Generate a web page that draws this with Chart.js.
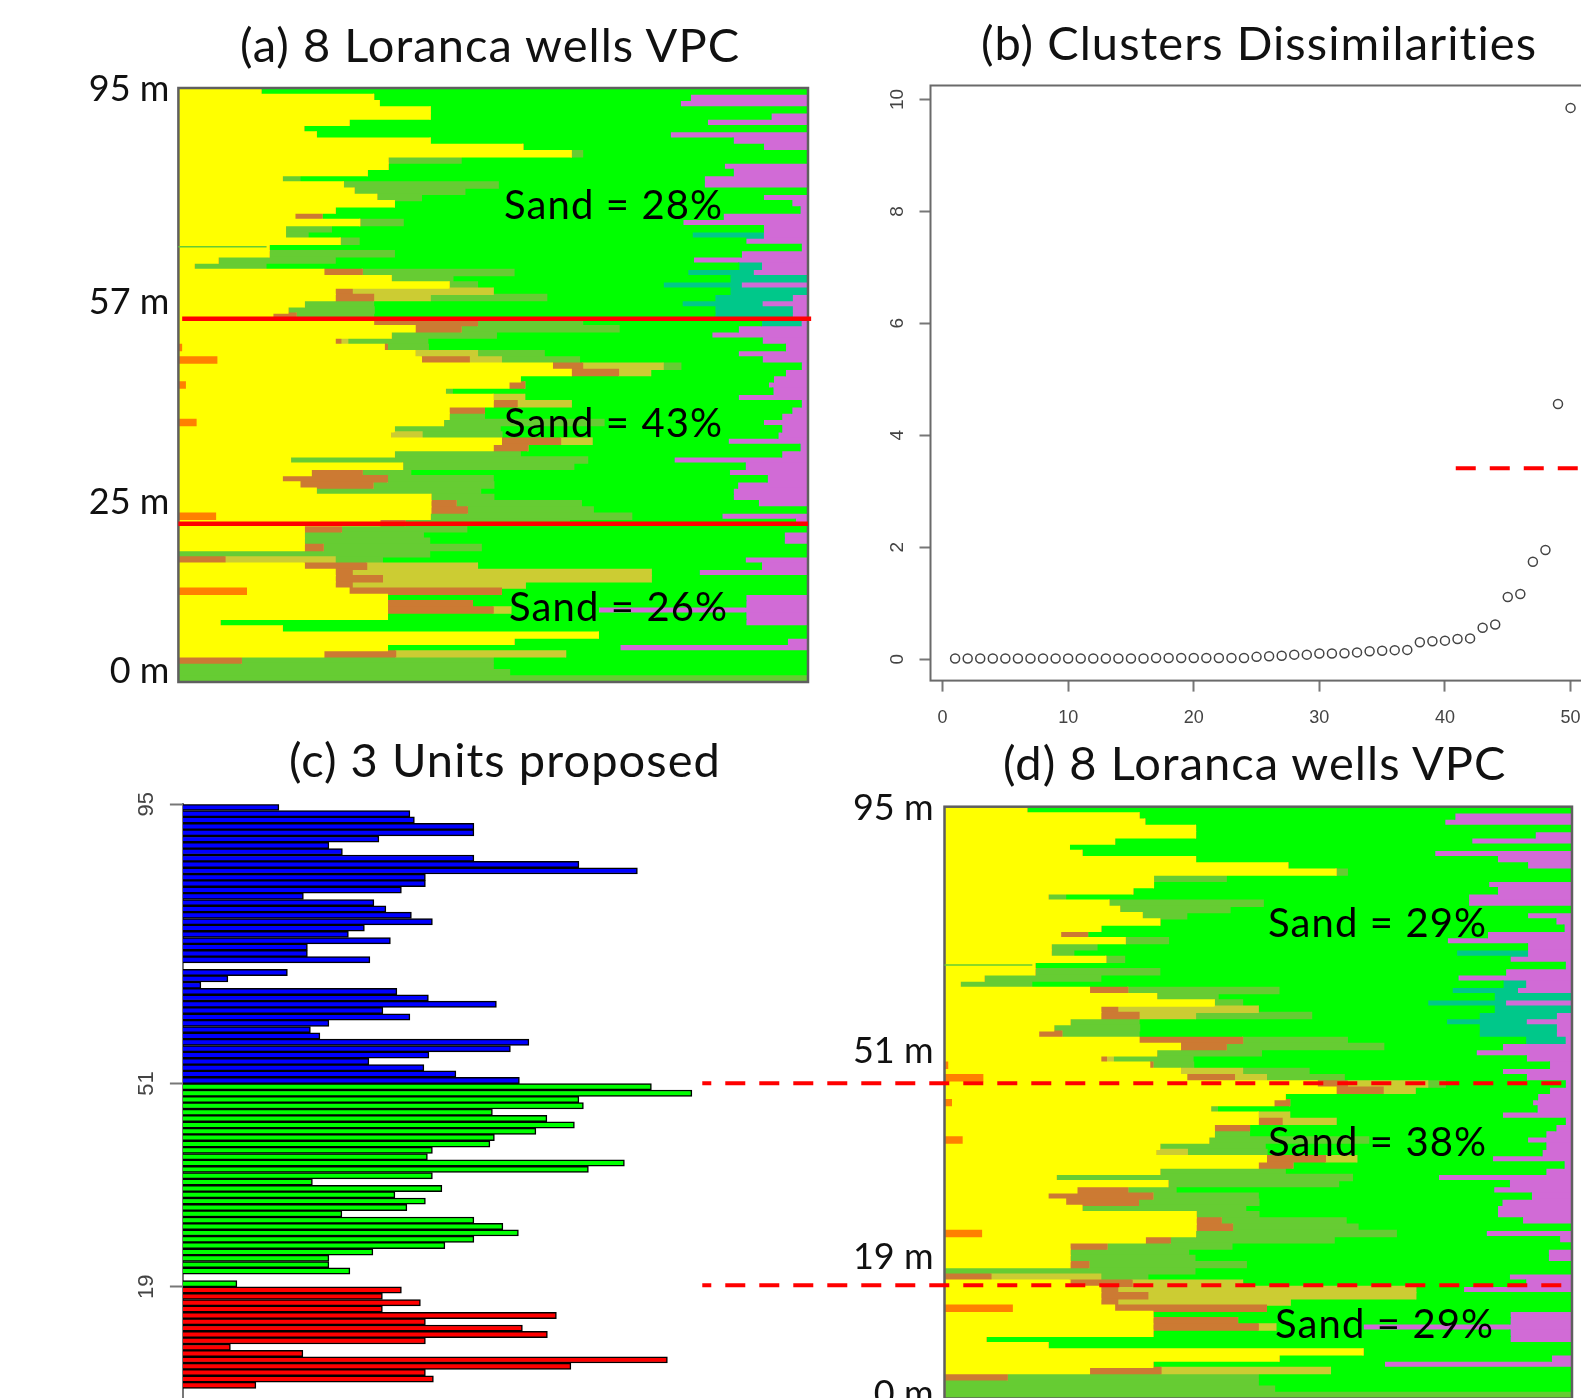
<!DOCTYPE html>
<html><head><meta charset="utf-8">
<style>
html,body{margin:0;padding:0;background:#fff;width:1581px;height:1398px;overflow:hidden}
#page{position:relative;width:1581px;height:1398px;overflow:hidden}
canvas{position:absolute;filter:blur(0.5px)}
.t{position:absolute;white-space:nowrap;font-family:Lato,sans-serif;color:#111;transform:translateY(-50%);line-height:1;z-index:10}
.title{font-size:47px;letter-spacing:1.05px}
.sand{font-size:40px;letter-spacing:1.1px;color:#000}
</style>
<script src="https://cdn.jsdelivr.net/npm/chart.js@4/dist/chart.umd.js"></script>
</head><body><div id="page">
<canvas id="ca" width="800" height="680" style="left:60px;top:40px;z-index:2"></canvas>
<canvas id="cb" width="800" height="710" style="left:860px;top:40px;z-index:2"></canvas>
<canvas id="cc" width="700" height="700" style="left:100px;top:780px;z-index:1"></canvas>
<canvas id="cd" width="881" height="700" style="left:700px;top:760px;z-index:3"></canvas>
<div class="t title" style="left:240px;top:44px">(a) 8 Loranca wells VPC</div>
<div class="t title" style="left:981px;top:42px">(b) Clusters Dissimilarities</div>
<div class="t title" style="left:289px;top:759px">(c) 3 Units proposed</div>
<div class="t title" style="left:1003px;top:762px">(d) 8 Loranca wells VPC</div>
<div class="t sand" style="left:504px;top:204px">Sand = 28%</div>
<div class="t sand" style="left:504px;top:422px">Sand = 43%</div>
<div class="t sand" style="left:509px;top:606px">Sand = 26%</div>
<div class="t sand" style="left:1268px;top:922px">Sand = 29%</div>
<div class="t sand" style="left:1268px;top:1141px">Sand = 38%</div>
<div class="t sand" style="left:1275px;top:1323px">Sand = 29%</div>
</div>
<script>
// ---- categories: one row per metre of the VPC, top to bottom
const rowDepths=[95,94,93,92,91,90,89,88,87,86,85,84,83,82,81,80,79,78,77,76,75,74,73,72,71,70,69,68,67,66,65,64,63,62,61,60,59,58,57,56,55,54,53,52,51,50,49,48,47,46,45,44,43,42,41,40,39,38,37,36,35,34,33,32,31,30,29,28,27,26,25,24,23,22,21,20,19,18,17,16,15,14,13,12,11,10,9,8,7,6,5,4,3,2,1];

// ---- VPC facies proportions (percent of wells per row)
const orange=[0,0,0,0,0,0,0,0,0,0, 0,0,0,0,0,0,0,0,0,0, 0,0,0,0,0,0,0,0,0,0, 0,0,0,0,0,0,0,0,0,0,
 0,0.5,0,6.1,0,0,0,1.1,0,0, 0,0,0,2.8,0,0,0,0,0,0, 0,0,0,0,0,0,0,0,5.9,0, 0,0,0,0,0,0,0,0,0,0,
 10.8,0,0,0,0,0,0,0,0,0, 0,0,0,0,0];
const yellow=[13.1,31.0,31.9,40.0,40.0,27.1,19.9,21.9,40.0,54.7,
 62.4,33.3,33.3,30.0,16.5,26.2,27.9,31.5,34.3,24.9,
 18.5,28.8,17.0,17.0,25.7,14.4,14.4,6.3,2.5,23.1,
 33.8,43.0,24.9,24.9,20.0,17.4,15.0,31.0,37.6,33.8,
 24.9,32.2,37.6,32.5,59.4,62.4,54.3,51.4,42.4,50.0,
 50.0,43.0,43.0,39.3,34.3,33.7,51.3,50.0,34.3,17.8,
 35.6,21.1,16.5,19.3,21.9,40.1,40.1,40.1,34.1,32.0,
 20.0,20.0,20.0,20.0,0,0,20.0,24.9,24.9,24.9,
 16.3,33.2,33.2,33.2,33.2,6.6,16.5,66.7,53.3,33.2,
 23.1,0,0,0,0];
const brown=[0,0,0,0,0,0,0,0,0,0, 0,0,0,0,0,0,0,0,0,0,
 4.3,0,0,0,0,0,0,0,0,6.1,
 0,0,2.7,6.1,0,0,3.7,16.5,7.3,0,
 0.9,0.5,0,7.6,4.8,7.5,0,2.5,0,0,
 3.8,5.6,0,0,0,0,9.4,5.5,0,0,
 0,8.1,16.7,11.6,0,0,4.0,5.8,0,4.0,
 5.9,0,0,3.0,0,7.4,9.9,2.7,7.5,2.7,
 24.2,0,13.5,16.8,0,0,0,0,0,0,
 11.4,10.0,0,0,0];
const khaki=[0,0,0,0,0,0,0,0,0,0, 0,0,0,0,0,0,0,0,0,0, 0,0,0,0,0,0,0,0,0,0,
 0,0,22.4,9.0,0,0,0,0,0,0,
 1.1,0,9.9,5.1,12.8,5.1,0,0,0,5.0,
 8.6,0,0,0,0,5.0,5.0,0,0,0,
 0,0,0,0,0,0,0,0,0,0,
 0,0,0,0,0,17.5,17.6,47.5,42.7,27.5,
 0,0,0,2.8,0,0,0,0,0,0,
 27.0,0,0,0,0];
const olive=[0,0,0,0,0,0,0,0,0,0,
 1.8,11.6,0,0,2.8,24.6,17.6,7.1,0,0,
 0,6.9,7.3,3.6,3.0,0,19.9,18.6,11.4,24.1,
 9.8,4.5,0,18.5,11.0,13.7,12.3,16.7,25.1,16.7,
 12.7,6.5,10.6,12.4,2.8,0,0,0,1.1,0,
 0,0,5.6,25.5,16.8,12.7,0,0,20.0,47.2,
 27.2,7.7,16.8,19.2,26.1,10.0,19.9,20.0,32.0,26.1,
 19.9,18.9,19.9,25.1,39.9,7.5,0,0,0,0,
 0,0,0,0,0,0,0,0,0,0,
 0,40.0,50.0,52.6,100];
const teal=[0,0,0,0,0,0,0,0,0,0, 0,0,0,0,0,0,0,0,0,0,
 0,0,0,11.3,0,0,0,0,3.6,10.4,
 12.4,12.4,12.4,12.3,12.7,12.3,12.3,6.3,0,0,
 0,0,0,0,0,0,0,0,0,0, 0,0,0,0,0,0,0,0,0,0, 0,0,0,0,0,0,0,0,0,0,
 0,0,0,0,0,0,0,0,0,0, 0,0,0,0,0,0,0,0,0,0, 0,0,0,0,0];
const purple=[0,18.7,20.3,0,5.9,16.0,0,21.9,11.9,7.1,
 0,0,13.3,11.9,16.5,16.5,0,7.1,2.6,1.3,
 13.5,19.9,7.1,7.1,9.9,1.1,10.6,18.2,7.4,8.7,
 0,10.6,0,2.5,7.3,2.5,2.5,1.1,11.1,15.3,
 7.3,3.6,11.1,7.3,1.1,3.6,5.5,6.3,5.6,11.1,
 1.1,2.6,4.2,7.1,4.2,4.8,12.7,1.3,4.2,21.3,
 10.0,12.5,6.5,11.2,11.9,11.9,7.9,0,13.7,2.0,
 0,3.8,3.8,0,0,10.0,7.4,17.3,0,0,
 0,9.9,9.9,33.3,9.9,9.9,0,0,3.3,29.9,
 0,0,0,0,0];

// ---- (b) dissimilarities
const clusterIndex=[1,2,3,4,5,6,7,8,9,10,11,12,13,14,15,16,17,18,19,20,21,22,23,24,25,26,27,28,29,30,31,32,33,34,35,36,37,38,39,40,41,42,43,44,45,46,47,48,49,50];
const dissimilarity=[0.01,0.01,0.01,0.01,0.01,0.01,0.01,0.01,0.01,0.01,0.01,0.01,0.01,0.01,0.01,0.01,0.02,0.02,0.02,0.02,0.02,0.02,0.02,0.02,0.04,0.05,0.06,0.08,0.08,0.1,0.1,0.105,0.12,0.14,0.15,0.16,0.165,0.3,0.32,0.33,0.36,0.37,0.56,0.62,1.11,1.165,1.74,1.95,4.56,9.85];
const cutX=[40.86,55];
const cutY=[3.41,3.41];

// ---- (c) sand proportion per row, three units
const unit1=[19.2,45.4,46.3,58.2,58.2,39.2,29.2,31.9,58.2,79.2,90.9,48.5,48.5,43.7,24.1,38.2,40.6,45.7,49.9,36.3,33.1,41.5,24.9,24.9,37.4,0,20.9,9.0,3.6,42.8,49.1,62.7,40.0,45.4,29.2,25.5,27.4,69.2,65.5,49.2,37.2,48.2,54.6,67.3];
const unit2=[93.7,101.8,79.2,80.1,61.9,72.8,78.3,70.6,62.3,61.4,49.9,48.9,88.3,81.1,49.9,25.9,51.8,42.4,48.5,44.8,31.8,58.2,64.0,67.1,58.2,52.4,38.0,29.2,29.2,33.4,0,10.8];
const unit3=[43.7,39.9,47.5,39.9,74.7,48.5,67.9,72.9,48.5,9.5,24.0,96.9,77.6,48.5,50.1,14.6];

// ---- tick labels (row index -> text)
const ticksA={0:'95 m',34:'57 m',66:'25 m',93:'0 m'};
const ticksD={0:'95 m',39:'51 m',72:'19 m',94:'0 m'};
const ticksC={0:'95',44:'51',76:'19'};

const facies=[
 ['Orange',orange,'#FF8000'],['Yellow',yellow,'#FFFF00'],['Brown',brown,'#CC7A33'],['Khaki',khaki,'#CCCC33'],
 ['Olive',olive,'#66CC33'],['Green',null,'#00FF00'],['Teal',teal,'#00C88A'],['Purple',purple,'#D16BD6']];
const green=rowDepths.map((_,i)=>Math.max(0,100-[orange,yellow,brown,khaki,olive,teal,purple].reduce((s,a)=>s+a[i],0)));

const decor={id:'decor',
 beforeDatasetsDraw(c,a,o){ if(o.bg){const r=c.chartArea;c.ctx.save();c.ctx.fillStyle=o.bg;c.ctx.fillRect(r.left,r.top,r.width,r.height);c.ctx.restore();}},
 afterDraw(c,a,o){const g=c.ctx,r=c.chartArea;g.save();
  if(o.frame){g.strokeStyle=o.frame;g.lineWidth=o.frameWidth||2;g.strokeRect(r.left,r.top,r.width,r.height);}
  (o.lines||[]).forEach(l=>{const y=c.scales.y.getPixelForValue(l.row);g.strokeStyle=l.color||'#FF0000';g.lineWidth=l.width;g.setLineDash(l.dash||[]);g.lineDashOffset=l.phase||0;
   g.beginPath();g.moveTo(c.scales.x.getPixelForValue(l.from),y);g.lineTo(c.scales.x.getPixelForValue(l.to),y);g.stroke();});
  g.restore();}};

function vpc(id,tickMap,pad,axisW,tickPad,lines){
 return new Chart(document.getElementById(id),{type:'bar',plugins:[decor],
  data:{labels:rowDepths,datasets:facies.map(f=>({label:f[0],data:f[1]||green,backgroundColor:f[2],borderWidth:0,barPercentage:1,categoryPercentage:1,inflateAmount:0.6}))},
  options:{indexAxis:'y',responsive:false,animation:false,layout:{padding:pad},
   plugins:{legend:{display:false},tooltip:{enabled:false},decor:{bg:'#00FF00',frame:'#5f5f5f',frameWidth:2.5,lines}},
   scales:{
    x:{stacked:true,min:0,max:100,display:false},
    y:{stacked:true,grid:{display:false},border:{display:false},afterFit(s){s.width=axisW;},
       ticks:{autoSkip:false,padding:tickPad,labelOffset:-1.5,color:'#111',font:{family:'Lato',size:36},maxRotation:0,minRotation:0,callback(v,i){return tickMap[i]||'';}}}
   }}});
}
const seam={row:24.9,from:0,to:14,width:1.5,color:'#66CC33'};
vpc('ca',ticksA,{top:48,bottom:38,right:52,left:0},118.4,1,[seam,
 {row:36.4,from:0.6,to:100.5,width:4.5},{row:69.2,from:0,to:100,width:4.5}]);
vpc('cd',ticksD,{top:46.7,bottom:61.4,right:9,left:0},244.5,3,[seam,
 {row:43.9,from:-38.6,to:98.4,width:4,dash:[20,14],phase:11},{row:76.3,from:-38.6,to:98.4,width:4,dash:[20,14],phase:11}]);

// (b)
new Chart(document.getElementById('cb'),{type:'scatter',plugins:[decor],
 data:{datasets:[
  {label:'Dissimilarity',data:clusterIndex.map((x,i)=>({x,y:dissimilarity[i]})),pointRadius:4.5,pointBorderColor:'#444',pointBackgroundColor:'transparent',pointBorderWidth:1.5},
  {label:'Cut',data:cutX.map((x,i)=>({x,y:cutY[i]})),showLine:true,pointRadius:0,borderColor:'#FF0000',borderWidth:4,borderDash:[20,14]}]},
 options:{responsive:false,animation:false,layout:{padding:{top:45.5,right:39.2,bottom:0,left:0}},
  plugins:{legend:{display:false},tooltip:{enabled:false},decor:{frame:'#6a6a6a',frameWidth:2}},
  scales:{
   x:{type:'linear',min:-0.96,max:54,afterFit(s){s.height=69.4;},grid:{drawOnChartArea:false,tickLength:11,tickColor:'#777',tickWidth:2},border:{display:false},
      ticks:{stepSize:10,includeBounds:false,padding:16,color:'#444',maxRotation:0,font:{family:'Liberation Sans',size:18}}},
   y:{type:'linear',min:-0.384,max:10.25,afterFit(s){s.width=70.5;},grid:{drawOnChartArea:false,tickLength:11,tickColor:'#777',tickWidth:2},border:{display:false},
      ticks:{stepSize:2,includeBounds:false,padding:11,color:'#444',minRotation:90,maxRotation:90,crossAlign:'center',font:{family:'Liberation Sans',size:19}}}
  }}});

// (c)
const pad=(n,a,m)=>Array(n).fill(null).concat(a,Array(m).fill(null));
new Chart(document.getElementById('cc'),{type:'bar',
 data:{labels:rowDepths,datasets:[
  {label:'Unit 1',data:pad(0,unit1,51),backgroundColor:'#0000FF'},
  {label:'Unit 2',data:pad(44,unit2,19),backgroundColor:'#00FF00'},
  {label:'Unit 3',data:pad(76,unit3,3),backgroundColor:'#FF0000'}].map(d=>Object.assign(d,{borderColor:'#000',borderWidth:1.5,barThickness:6.3}))},
 options:{indexAxis:'y',responsive:false,animation:false,layout:{padding:{top:23.3,bottom:72.5,right:17.1,left:0}},
  plugins:{legend:{display:false},tooltip:{enabled:false}},
  scales:{
   x:{stacked:true,min:0,max:120,display:false},
   y:{stacked:true,afterFit(s){s.width=82.9;},
      grid:{drawOnChartArea:false,tickLength:13,tickWidth:2,tickColor(ctx){return ticksC[ctx.index]?'#777':'rgba(0,0,0,0)';}},
      border:{display:true,color:'#777',width:2},
      ticks:{autoSkip:false,padding:11,labelOffset:-3.2,color:'#444',minRotation:90,maxRotation:90,crossAlign:'center',font:{family:'Liberation Sans',size:22},callback(v,i){return ticksC[i]||'';}}}
  }}});
</script></body></html>
